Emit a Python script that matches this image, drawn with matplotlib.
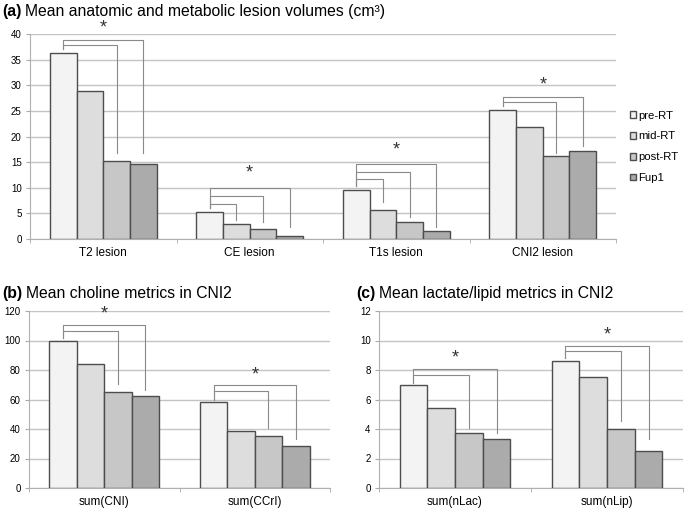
import numpy as np
import matplotlib
matplotlib.use("Agg")
import matplotlib.pyplot as plt

plt.rcParams['font.family'] = ['Liberation Sans', 'DejaVu Sans']

# -------- Data --------

series = ['pre-RT', 'mid-RT', 'post-RT', 'Fup1']
colors = ['#f3f3f3', '#dddddd', '#c7c7c7', '#ababab']

cats_a = ['T2 lesion', 'CE lesion', 'T1s lesion', 'CNI2 lesion']
pre_a = [36.2, 5.2, 9.5, 25.2]
mid_a = [28.9, 3.0, 5.7, 21.9]
post_a = [15.3, 2.0, 3.3, 16.1]
fup_a = [14.7, 0.6, 1.6, 17.2]
# brackets: per category -> star height, [(target bar, level, end bottom)]
star_a = [41.1, 12.8, 17.4, 30.0]
brk_a = [[(2, 37.9, 16.7), (3, 38.9, 16.7)],
         [(1, 6.9, 3.7), (2, 8.3, 3.4), (3, 9.9, 2.4)],
         [(1, 11.7, 7.3), (2, 13.1, 4.35), (3, 14.6, 2.4)],
         [(2, 26.8, 16.7), (3, 27.8, 18.1)]]

cats_b = ['sum(CNI)', 'sum(CCrI)']
pre_b = [99.5, 58.0]
mid_b = [84.0, 38.5]
post_b = [65.0, 35.5]
fup_b = [62.5, 28.5]
star_b = [118.0, 76.6]
brk_b = [[(2, 106.5, 70.5), (3, 110.4, 66.4)],
         [(2, 66.0, 40.5), (3, 69.8, 33.1)]]

cats_c = ['sum(nLac)', 'sum(nLip)']
pre_c = [6.95, 8.6]
mid_c = [5.4, 7.55]
post_c = [3.75, 4.0]
fup_c = [3.3, 2.5]
star_c = [8.83, 10.4]
brk_c = [[(2, 7.66, 4.05), (3, 8.08, 3.7)],
         [(2, 9.28, 4.55), (3, 9.66, 3.33)]]


def draw_panel(ax, cats, vals, ymax, ystep, stars, brackets, gap):
    n = len(cats)
    x = np.arange(n)
    w = 0.73 / 4
    bars = []
    for k, v in enumerate(vals):
        b = ax.bar(x + (k - 1.5) * w, v, w, color=colors[k], edgecolor='#4d4d4d',
                   linewidth=1.0, label=series[k], zorder=3)
        bars.append(b)

    # significance brackets
    for i in range(n):
        x0 = bars[0][i].get_x() + w / 2
        top0 = vals[0][i] + gap
        for tgt, lev, end in brackets[i]:
            xt = bars[tgt][i].get_x() + w / 2
            ax.plot([x0, x0, xt, xt], [top0, lev, lev, end], color='#8a8a8a',
                    lw=0.8, zorder=4)
        ax.text(x[i], stars[i], '*', ha='center', va='center', fontsize=13,
                color='#333333', zorder=5)

    ax.set_xlim(-0.5, n - 0.5)
    ax.set_ylim(0, ymax)
    ax.set_yticks(np.arange(0, ymax + 0.01, ystep))
    ax.set_xticks(x)
    ax.set_xticklabels(cats, fontsize=8.5)
    ax.set_xticks(np.arange(-0.5, n, 1.0), minor=True)
    ax.tick_params(axis='x', which='major', length=0, pad=6)
    ax.tick_params(axis='x', which='minor', length=3, color='#aaaaaa')
    ax.tick_params(axis='y', length=3, color='#aaaaaa', labelsize=7, pad=3)
    ax.yaxis.grid(True, color='#c4c4c4', lw=1.0, zorder=0)
    ax.set_axisbelow(True)
    for s in ['top', 'right']:
        ax.spines[s].set_visible(False)
    for s in ['left', 'bottom']:
        ax.spines[s].set_color('#b0b0b0')
        ax.spines[s].set_linewidth(0.8)
    return bars


W, H = 685, 511
fig = plt.figure(figsize=(W / 100, H / 100), dpi=100)


def box(l, r, t, b):
    return [l / W, 1 - b / H, (r - l) / W, (b - t) / H]


ax_a = fig.add_axes(box(30, 616, 34, 239))
ax_b = fig.add_axes(box(29, 330, 311, 488))
ax_c = fig.add_axes(box(379, 683, 311, 488))

bars = draw_panel(ax_a, cats_a, [pre_a, mid_a, post_a, fup_a], 40, 5, star_a, brk_a, 0.8)
draw_panel(ax_b, cats_b, [pre_b, mid_b, post_b, fup_b], 120, 20, star_b, brk_b, 2.0)
draw_panel(ax_c, cats_c, [pre_c, mid_c, post_c, fup_c], 12, 2, star_c, brk_c, 0.2)

fig.legend(handles=bars, labels=series, loc='upper left',
           bbox_to_anchor=(625 / W, 1 - 106 / H), frameon=False, fontsize=8.2,
           handlelength=0.55, handleheight=0.55, handletextpad=0.2, labelspacing=0.95,
           borderaxespad=0)

# Titles: bold panel letter followed by regular text
titles = [('(a)', 'Mean anatomic and metabolic lesion volumes (cm\u00b3)', 2, 16),
          ('(b)', 'Mean choline metrics in CNI2', 2, 298),
          ('(c)', 'Mean lactate/lipid metrics in CNI2', 356, 298)]
fig.canvas.draw()
r = fig.canvas.get_renderer()
for letter, rest, tx, ty in titles:
    t = fig.text(tx / W, 1 - ty / H, letter, fontsize=11.3, fontweight='bold',
                 va='baseline', ha='left')
    bb = t.get_window_extent(renderer=r)
    fig.text((bb.x1 + 4) / W, 1 - ty / H, rest, fontsize=11.3, va='baseline', ha='left')

fig.savefig('out.png', dpi=100)
